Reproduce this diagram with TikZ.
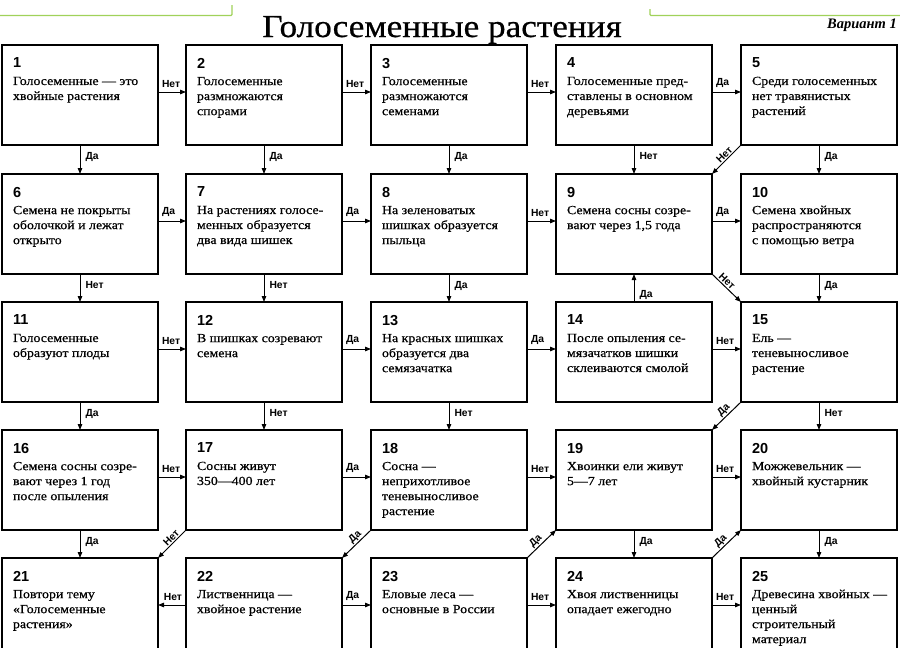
\documentclass[tikz,border=0pt]{standalone}
\usepackage{fontspec}
\setmainfont{Liberation Serif}[FakeStretch=1.12]
\newfontfamily\bodyf{Liberation Serif}[FakeStretch=1.12, FakeBold=0.6]
\newfontfamily\titlef{Liberation Serif}[FakeStretch=1.1, FakeBold=0.6]
\newfontfamily\numf{Liberation Sans}
\newfontfamily\lblf{Liberation Sans}
\newfontfamily\varf{Liberation Serif}
\usetikzlibrary{arrows.meta}
\definecolor{hdrgreen}{RGB}{160,210,90}

\newcommand\bxt[2]{\parbox[c][100pt][t]{156pt}{\raggedright\leftskip=11pt\relax\parindent=0pt
 \vspace*{13pt}{\numf\bfseries\fontsize{14.5}{14.5}\selectfont #1\par}\vspace{2pt}%
 {\bodyf\fontsize{12.4}{15}\selectfont #2\par}}}

\tikzset{
 bx/.style={draw, line width=1.1pt, inner sep=0pt, outer sep=0pt, anchor=north west},
 arr/.style={line width=1pt, -{Triangle[length=6pt,width=4.5pt]}},
 lbl/.style={font=\lblf\bfseries\fontsize{10.3}{10.3}\selectfont, inner sep=1pt},
 hdr/.style={draw=hdrgreen, line width=1.3pt, rounded corners=1pt},
}
\newcommand\harr[3]{\draw[arr] ([yshift=-47pt]#1.north east) -- node[lbl,pos=0,anchor=south west,xshift=2.5pt,yshift=3pt]{#3} ([yshift=-47pt]#2.north west);}
\newcommand\larr[3]{\draw[arr] ([yshift=-47pt]#1.north west) -- node[lbl,pos=0,anchor=south east,xshift=-2.5pt,yshift=3pt]{#3} ([yshift=-47pt]#2.north east);}
\newcommand\varr[3]{\draw[arr] (#1.south) -- node[lbl,pos=0,anchor=north west,xshift=4pt,yshift=-6pt]{#3} (#2.north);}
\newcommand\uarr[3]{\draw[arr] (#1.north) -- node[lbl,pos=0,anchor=south west,xshift=4pt,yshift=1pt]{#3} (#2.south);}
\newcommand\darr[4]{\draw[arr] (#1) -- node[lbl,sloped,above,pos=#4]{#3} (#2);}

\begin{document}
\begin{tikzpicture}[x=1pt,y=-1pt]
\useasboundingbox (0,0) rectangle (900,648);
\fill[white] (0,0) rectangle (900,648);

% header
\draw[hdr] (0,15.5) -- (232,15.5) -- (232,5);
\draw[hdr] (650,9) -- (650,15.5) -- (900,15.5);
\node[font=\titlef\fontsize{32}{32}\selectfont, anchor=base, inner sep=0pt] (title) at (442,37) {Голосеменные растения};
\node[font=\varf\bfseries\itshape\fontsize{14.5}{14.5}\selectfont, anchor=base east, inner sep=0pt] (var) at (897,28) {Вариант 1};

% row 1
\node[bx] (b1) at (2,45) {\bxt{1}{Голосеменные — это\\хвойные растения}};
\node[bx] (b2) at (186,45) {\bxt{2}{Голосеменные\\размножаются\\спорами}};
\node[bx] (b3) at (371,45) {\bxt{3}{Голосеменные\\размножаются\\семенами}};
\node[bx] (b4) at (556,45) {\bxt{4}{Голосеменные пред-\\ставлены в основном\\деревьями}};
\node[bx] (b5) at (741,45) {\bxt{5}{Среди голосеменных\\нет травянистых\\растений}};
% row 2
\node[bx] (b6) at (2,174) {\bxt{6}{Семена не покрыты\\оболочкой и лежат\\открыто}};
\node[bx] (b7) at (186,174) {\bxt{7}{На растениях голосе-\\менных образуется\\два вида шишек}};
\node[bx] (b8) at (371,174) {\bxt{8}{На зеленоватых\\шишках образуется\\пыльца}};
\node[bx] (b9) at (556,174) {\bxt{9}{Семена сосны созре-\\вают через 1,5 года}};
\node[bx] (b10) at (741,174) {\bxt{10}{Семена хвойных\\распространяются\\с помощью ветра}};
% row 3
\node[bx] (b11) at (2,302) {\bxt{11}{Голосеменные\\образуют плоды}};
\node[bx] (b12) at (186,302) {\bxt{12}{В шишках созревают\\семена}};
\node[bx] (b13) at (371,302) {\bxt{13}{На красных шишках\\образуется два\\семязачатка}};
\node[bx] (b14) at (556,302) {\bxt{14}{После опыления се-\\мязачатков шишки\\склеиваются смолой}};
\node[bx] (b15) at (741,302) {\bxt{15}{Ель —\\теневыносливое\\растение}};
% row 4
\node[bx] (b16) at (2,430) {\bxt{16}{Семена сосны созре-\\вают через 1 год\\после опыления}};
\node[bx] (b17) at (186,430) {\bxt{17}{Сосны живут\\350—400 лет}};
\node[bx] (b18) at (371,430) {\bxt{18}{Сосна —\\неприхотливое\\теневыносливое\\растение}};
\node[bx] (b19) at (556,430) {\bxt{19}{Хвоинки ели живут\\5—7 лет}};
\node[bx] (b20) at (741,430) {\bxt{20}{Можжевельник —\\хвойный кустарник}};
% row 5
\node[bx] (b21) at (2,558) {\bxt{21}{Повтори тему\\«Голосеменные\\растения»}};
\node[bx] (b22) at (186,558) {\bxt{22}{Лиственница —\\хвойное растение}};
\node[bx] (b23) at (371,558) {\bxt{23}{Еловые леса —\\основные в России}};
\node[bx] (b24) at (556,558) {\bxt{24}{Хвоя лиственницы\\опадает ежегодно}};
\node[bx] (b25) at (741,558) {\bxt{25}{Древесина хвойных —\\ценный\\строительный\\материал}};

% horizontal connectors
\harr{b1}{b2}{Нет}
\harr{b2}{b3}{Нет}
\harr{b3}{b4}{Нет}
\harr{b4}{b5}{Да}
\harr{b6}{b7}{Да}
\harr{b7}{b8}{Да}
\harr{b8}{b9}{Нет}
\harr{b9}{b10}{Да}
\harr{b11}{b12}{Нет}
\harr{b12}{b13}{Да}
\harr{b13}{b14}{Да}
\harr{b14}{b15}{Нет}
\harr{b16}{b17}{Нет}
\harr{b17}{b18}{Да}
\harr{b18}{b19}{Нет}
\harr{b19}{b20}{Нет}
\larr{b22}{b21}{Нет}
\harr{b22}{b23}{Да}
\harr{b23}{b24}{Нет}
\harr{b24}{b25}{Нет}

% vertical connectors
\varr{b1}{b6}{Да}
\varr{b2}{b7}{Да}
\varr{b3}{b8}{Да}
\varr{b4}{b9}{Нет}
\varr{b5}{b10}{Да}
\varr{b6}{b11}{Нет}
\varr{b7}{b12}{Нет}
\varr{b8}{b13}{Да}
\uarr{b14}{b9}{Да}
\varr{b10}{b15}{Да}
\varr{b11}{b16}{Да}
\varr{b12}{b17}{Нет}
\varr{b13}{b18}{Нет}
\varr{b15}{b20}{Нет}
\varr{b16}{b21}{Да}
\varr{b19}{b24}{Да}
\varr{b20}{b25}{Да}

% diagonal connectors
\darr{b5.south west}{b9.north east}{Нет}{0.45}
\darr{b9.south east}{b15.north west}{Нет}{0.4}
\darr{b15.south west}{b19.north east}{Да}{0.45}
\darr{b17.south west}{b21.north east}{Нет}{0.4}
\darr{b18.south west}{b22.north east}{Да}{0.4}
\darr{b23.north east}{b19.south west}{Да}{0.45}
\darr{b24.north east}{b20.south west}{Да}{0.45}
\end{tikzpicture}
\end{document}
